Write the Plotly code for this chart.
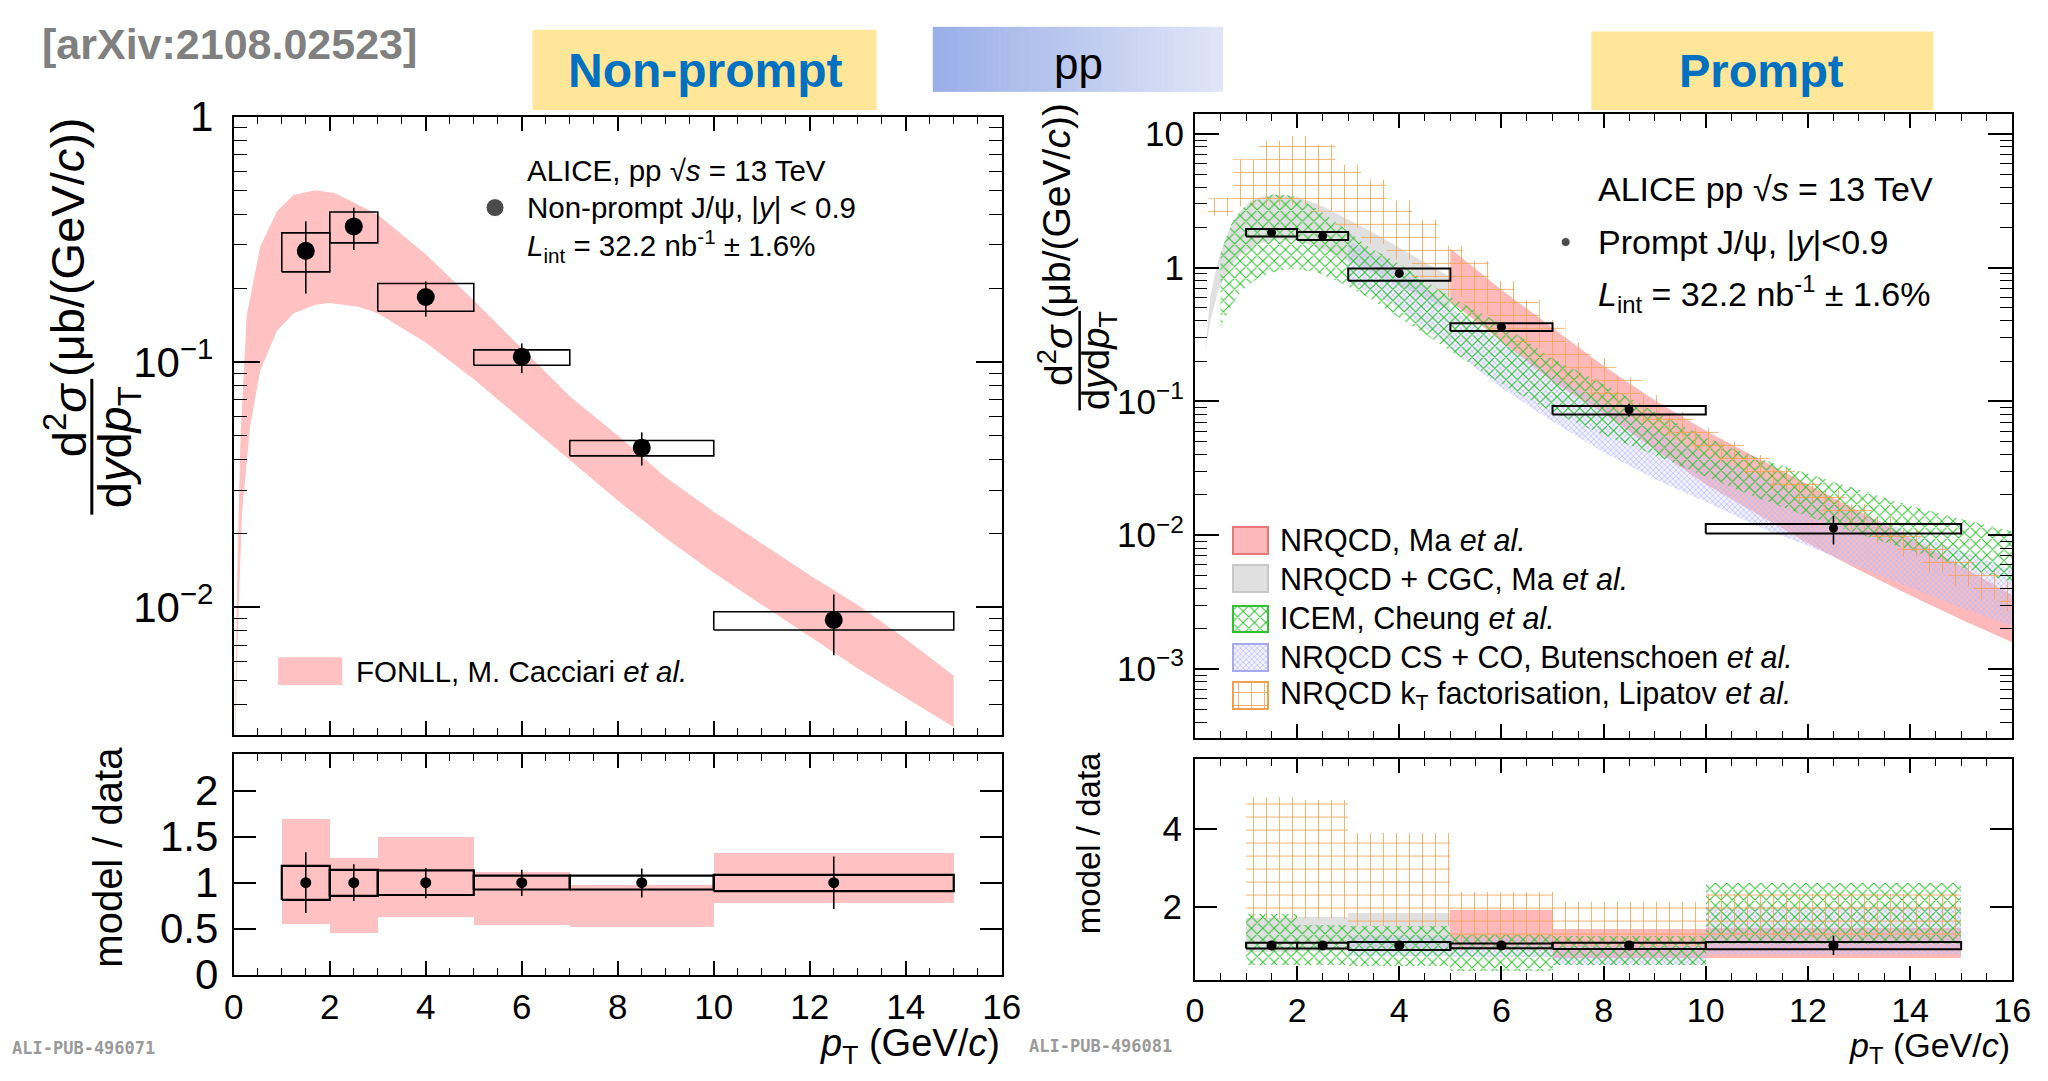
import plotly.graph_objects as go

W, H = 2048, 1081

# ---------------- data ----------------
bin_lo = [1, 2, 3, 5, 7, 10]
bin_hi = [2, 3, 5, 7, 10, 15]
pt_pts = [1.5, 2.5, 4, 6, 8.5, 12.5]

# Non-prompt J/psi cross section (ub/(GeV/c))
np_val = [0.284, 0.357, 0.184, 0.105, 0.0447, 0.00887]
np_stat_hi = [0.375, 0.425, 0.213, 0.119, 0.0516, 0.01125]
np_stat_lo = [0.190, 0.286, 0.153, 0.090, 0.0378, 0.00637]
np_sys_hi = [0.336, 0.409, 0.209, 0.112, 0.0478, 0.00958]
np_sys_lo = [0.233, 0.306, 0.161, 0.097, 0.0414, 0.00807]

# FONLL band
fonll_pt_hi = [0.03, 0.07, 0.14, 0.27, 0.55, 0.9, 1.25, 1.7, 2.1, 2.6, 3.0, 4, 5, 6, 7, 8, 9, 10, 11, 12, 13, 14, 15]
fonll_hi = [0.00363, 0.0126, 0.0501, 0.155, 0.295, 0.412, 0.479, 0.501, 0.489, 0.437, 0.398, 0.275,
            0.178, 0.1135, 0.0724, 0.0501, 0.0339, 0.0245, 0.0182, 0.0135, 0.0102, 0.00741, 0.00525]
fonll_pt_lo = [0.03, 0.07, 0.17, 0.34, 0.55, 0.9, 1.25, 1.7, 2.0, 2.6, 3.0, 4, 5, 6, 7, 8, 9, 10, 11, 12, 13, 14, 15]
fonll_lo = [0.00251, 0.00646, 0.024, 0.0545, 0.092, 0.134, 0.158, 0.171, 0.174, 0.168, 0.158, 0.120,
            0.0851, 0.0582, 0.0398, 0.0272, 0.0191, 0.0138, 0.0102, 0.00759, 0.00562, 0.00427, 0.00324]

# Non-prompt model / data
np_r_val = [1, 1, 1, 1, 1, 1]
fonll_r_hi = [1.69, 1.27, 1.50, 1.12, 0.975, 1.32]
fonll_r_lo = [0.55, 0.46, 0.627, 0.54, 0.52, 0.778]
np_r_sys_hi = [1.183, 1.14, 1.134, 1.077, 1.077, 1.085]
np_r_sys_lo = [0.813, 0.856, 0.866, 0.926, 0.926, 0.908]
np_r_stat_hi = [1.33, 1.20, 1.16, 1.14, 1.155, 1.285]
np_r_stat_lo = [0.67, 0.80, 0.83, 0.856, 0.838, 0.715]

# Prompt J/psi cross section
p_val = [1.83, 1.73, 0.906, 0.36, 0.0867, 0.0113]
p_sys_hi = [1.95, 1.85, 0.986, 0.385, 0.0925, 0.0121]
p_sys_lo = [1.71, 1.61, 0.80, 0.336, 0.080, 0.0103]
p_stat_hi = [1.86, 1.76, 0.93, 0.37, 0.096, 0.014]
p_stat_lo = [1.80, 1.70, 0.88, 0.35, 0.077, 0.0085]

# Models (prompt)
cgc_pt = [0.2, 0.3, 0.45, 0.6, 0.75, 0.9, 1.1, 1.3, 1.6, 2.0, 2.5, 3.0, 3.5, 4.0, 4.5, 5.0]
cgc_hi = [0.234, 0.603, 1.12, 1.66, 2.24, 2.69, 3.16, 3.39, 3.53, 3.39, 2.88, 2.29, 1.82, 1.41, 1.09, 0.851]
cgc_lo = [0.234, 0.398, 0.661, 0.891, 1.07, 1.26, 1.41, 1.53, 1.63, 1.58, 1.38, 1.12, 0.912, 0.733, 0.594, 0.479]

icem_pt = [0.5, 0.73, 0.92, 1.15, 1.5, 1.9, 2.4, 2.9, 3.4, 4.0, 5, 6, 7, 8, 9, 10, 11, 12, 13, 14, 15, 16]
icem_hi = [1.28, 2.21, 2.75, 3.16, 3.53, 3.47, 2.75, 2.0, 1.43, 1.07, 0.603, 0.38, 0.209, 0.135,
           0.0832, 0.0537, 0.038, 0.0288, 0.0219, 0.0166, 0.0132, 0.0107]
icem_lo = [0.363, 0.532, 0.676, 0.794, 0.92, 0.984, 0.92, 0.759, 0.596, 0.428, 0.24, 0.135, 0.0832,
           0.0562, 0.0398, 0.0275, 0.0191, 0.0138, 0.0102, 0.00776, 0.00575, 0.00447]

ma_pt = [5, 6, 7, 8, 9, 10, 11, 12, 13, 14, 15, 16]
ma_hi = [1.39, 0.684, 0.355, 0.184, 0.102, 0.0603, 0.038, 0.024, 0.0151, 0.00955, 0.00589, 0.00355]
ma_lo = [0.562, 0.282, 0.141, 0.0813, 0.0437, 0.024, 0.0145, 0.0087, 0.0055, 0.00355, 0.00234, 0.00158]

but_pt = [3, 4, 5, 6, 7, 8, 9, 10, 11, 12, 13, 14, 15, 16]
but_hi = [1.58, 1.0, 0.501, 0.282, 0.158, 0.0955, 0.0603, 0.0398, 0.0282, 0.02, 0.0145, 0.0105, 0.00759, 0.0055]
but_lo = [0.794, 0.501, 0.251, 0.126, 0.0708, 0.0417, 0.0263, 0.0178, 0.0117, 0.00832, 0.00575, 0.00407, 0.00288, 0.00209]

kt_pt = [0.5, 1.0, 1.5, 2.0, 2.5, 3.0, 3.5, 4.0, 4.5, 5.0, 5.5, 6.0, 6.5, 7.0, 7.5, 8.0,
         8.5, 9.0, 9.5, 10.0, 10.5, 11.0, 11.5, 12.0, 12.5, 13.0, 13.5, 14.0, 14.5, 15.0, 15.5, 16.0]
kt_hi = [3.31, 6.46, 8.91, 9.66, 8.32, 5.89, 4.57, 3.16, 2.29, 1.45, 1.12, 0.794, 0.575, 0.407, 0.275, 0.209,
         0.151, 0.112, 0.0832, 0.0631, 0.0501, 0.0398, 0.0316, 0.0257, 0.0214, 0.017, 0.0138, 0.011,
         0.00851, 0.00661, 0.00537, 0.00447]
kt_lo = [2.45, 2.88, 2.95, 2.95, 2.63, 2.0, 1.51, 1.15, 0.832, 0.603, 0.447, 0.339, 0.251, 0.191, 0.145, 0.112,
         0.0871, 0.0692, 0.055, 0.0437, 0.0347, 0.0275, 0.0219, 0.0174, 0.0138, 0.011, 0.00871, 0.00692,
         0.00537, 0.00417, 0.00331, 0.00269]

# Prompt model / data (per data bin)
p_r_val = [1, 1, 1, 1, 1, 1]
p_r_sys_hi = [1.07, 1.07, 1.09, 1.05, 1.07, 1.09]
p_r_sys_lo = [0.92, 0.92, 0.88, 0.93, 0.91, 0.90]
p_r_stat_hi = [1.02, 1.02, 1.03, 1.04, 1.10, 1.25]
p_r_stat_lo = [0.98, 0.98, 0.97, 0.96, 0.90, 0.75]
kt_r_hi = [4.83, 4.75, 3.9, 2.39, 2.14, 2.35]
kt_r_lo = [1.68, 1.70, 1.5, 1.0, 1.0, 1.2]
icem_r_hi = [1.83, 1.55, 1.5, 1.3, 1.26, 2.62]
icem_r_lo = [0.51, 0.51, 0.47, 0.35, 0.51, 1.05]
cgc_r_bins = [0, 1, 2]
cgc_r_hi = [1.73, 1.75, 1.85]
cgc_r_lo = [0.85, 0.88, 0.92]
ma_r_bins = [3, 4, 5]
ma_r_hi = [1.92, 1.44, 1.46]
ma_r_lo = [0.90, 0.68, 0.68]
but_r_bins = [2, 3, 4, 5]
but_r_hi = [1.25, 1.2, 1.0, 2.0]
but_r_lo = [0.75, 0.7, 0.5, 0.8]

legend_labels = ["NRQCD, Ma <i>et al.</i>",
                 "NRQCD + CGC, Ma <i>et al.</i>",
                 "ICEM, Cheung <i>et al.</i>",
                 "NRQCD CS + CO, Butenschoen <i>et al.</i>",
                 "NRQCD k<sub>T</sub> factorisation, Lipatov <i>et al.</i>"]

# ---------------- styles ----------------
FONT = "Liberation Sans, Arial, sans-serif"
C_FONLL = "#ffc1c1"
C_MA = "rgba(250,100,100,0.45)"
C_CGC = "rgba(180,180,180,0.42)"
C_BUT_BG = "rgba(200,200,250,0.25)"
PAT_ICEM = dict(shape="x", fgcolor="#2fc02f", bgcolor="rgba(0,0,0,0)", size=8, solidity=0.24, fillmode="replace")
PAT_BUT = dict(shape="x", fgcolor="#b8b8f4", bgcolor=C_BUT_BG, size=4, solidity=0.3, fillmode="replace")
PAT_KT = dict(shape="+", fgcolor="#f5a050", bgcolor="rgba(0,0,0,0)", size=13, solidity=0.12, fillmode="replace")


def px(x):
    return x / W


def py(y):
    return 1 - y / H


fig = go.Figure()


def band(xs_hi, hi, xs_lo, lo):
    return list(xs_hi) + list(xs_lo)[::-1], list(hi) + list(lo)[::-1]


def step_band(centers, half, hi, lo):
    xs, ys = [], []
    for c, h in zip(centers, hi):
        xs += [c - half, c + half]
        ys += [h, h]
    for c, l in zip(centers[::-1], lo[::-1]):
        xs += [c + half, c - half]
        ys += [l, l]
    return xs, ys


def add_fill(xs, ys, ax, color=None, pattern=None):
    kw = dict(x=xs, y=ys, mode="lines", fill="toself", line=dict(width=0),
              xaxis="x" + ax, yaxis="y" + ax, hoverinfo="skip", showlegend=False)
    if pattern is not None:
        kw["fillcolor"] = "rgba(0,0,0,0)"
        kw["fillpattern"] = pattern
    else:
        kw["fillcolor"] = color
    fig.add_trace(go.Scatter(**kw))


def add_bars(idx, lo, hi, ax, color="rgba(0,0,0,0)", pattern=None):
    xc = [pt_pts[i] for i in idx]
    wd = [bin_hi[i] - bin_lo[i] for i in idx]
    marker = dict(color=color, line=dict(width=0))
    if pattern is not None:
        marker["pattern"] = pattern
    fig.add_trace(go.Bar(x=xc, width=wd, base=lo, y=[h - l for l, h in zip(lo, hi)],
                         marker=marker, xaxis="x" + ax, yaxis="y" + ax,
                         hoverinfo="skip", showlegend=False))


def add_box_outlines(lo, hi, ax, lw):
    xs, ys = [], []
    for a, b, l, h in zip(bin_lo, bin_hi, lo, hi):
        xs += [a, b, b, a, a, None]
        ys += [l, l, h, h, l, None]
    fig.add_trace(go.Scatter(x=xs, y=ys, mode="lines", line=dict(color="black", width=lw),
                             xaxis="x" + ax, yaxis="y" + ax, hoverinfo="skip", showlegend=False))


def add_points(val, lo, hi, ax, size):
    fig.add_trace(go.Scatter(
        x=pt_pts, y=val, mode="markers", marker=dict(color="black", size=size),
        error_y=dict(type="data", symmetric=False, array=[h - v for v, h in zip(val, hi)],
                     arrayminus=[v - l for v, l in zip(val, lo)], width=0, thickness=1.6, color="black"),
        xaxis="x" + ax, yaxis="y" + ax, hoverinfo="skip", showlegend=False))


ALL = list(range(6))

# ---- left top ----
fx, fy = band(fonll_pt_hi, fonll_hi, fonll_pt_lo, fonll_lo)
add_fill(fx, fy, "", color=C_FONLL)
add_box_outlines(np_sys_lo, np_sys_hi, "", 1.6)
add_points(np_val, np_stat_lo, np_stat_hi, "", 18)

# ---- left bottom ----
add_bars(ALL, fonll_r_lo, fonll_r_hi, "2", color=C_FONLL)
add_box_outlines(np_r_sys_lo, np_r_sys_hi, "2", 2.2)
add_points(np_r_val, np_r_stat_lo, np_r_stat_hi, "2", 11)

# ---- right top ----
x_, y_ = band(cgc_pt, cgc_hi, cgc_pt, cgc_lo)
add_fill(x_, y_, "3", color=C_CGC)
x_, y_ = band(ma_pt, ma_hi, ma_pt, ma_lo)
add_fill(x_, y_, "3", color=C_MA)
x_, y_ = band(but_pt, but_hi, but_pt, but_lo)
add_fill(x_, y_, "3", pattern=PAT_BUT)
x_, y_ = band(icem_pt, icem_hi, icem_pt, icem_lo)
add_fill(x_, y_, "3", pattern=PAT_ICEM)
x_, y_ = step_band(kt_pt, 0.25, kt_hi, kt_lo)
add_fill(x_, y_, "3", pattern=PAT_KT)
add_box_outlines(p_sys_lo, p_sys_hi, "3", 2)
add_points(p_val, p_stat_lo, p_stat_hi, "3", 9)

# ---- right bottom ----
add_bars(cgc_r_bins, cgc_r_lo, cgc_r_hi, "4", color=C_CGC)
add_bars(ma_r_bins, ma_r_lo, ma_r_hi, "4", color=C_MA)
add_bars(but_r_bins, but_r_lo, but_r_hi, "4", color=C_BUT_BG, pattern=PAT_BUT)
add_bars(ALL, icem_r_lo, icem_r_hi, "4", pattern=PAT_ICEM)
add_bars(ALL, kt_r_lo, kt_r_hi, "4", pattern=PAT_KT)
add_box_outlines(p_r_sys_lo, p_r_sys_hi, "4", 2)
add_points(p_r_val, p_r_stat_lo, p_r_stat_hi, "4", 10)

# ---- overlay pixel axis for legend swatches & bullets ----
sw_y = [541, 581, 623, 663, 703]
sw_fill = [C_MA, C_CGC, "rgba(0,0,0,0)", C_BUT_BG, "rgba(0,0,0,0)"]
sw_line = ["#e87878", "#c8c8c8", "#30c030", "#a8a8f0", "#f0a050"]
sw_pat = [None, None, PAT_ICEM, PAT_BUT, PAT_KT]
for yc, fc, lc, pt_ in zip(sw_y, sw_fill, sw_line, sw_pat):
    mk = dict(color=fc, line=dict(color=lc, width=2))
    if pt_ is not None:
        mk["pattern"] = pt_
    fig.add_trace(go.Bar(x=[1258.5], width=[35], base=[yc - 14], y=[28], marker=mk,
                         xaxis="x5", yaxis="y5", hoverinfo="skip", showlegend=False))
fig.add_trace(go.Scatter(x=[492, 1578], y=[193, 229], mode="markers",
                         marker=dict(color="black", size=[18, 9]),
                         xaxis="x5", yaxis="y5", hoverinfo="skip", showlegend=False))

# ---------------- axes ----------------
def log_minor(e0, e1):
    return [k * 10.0 ** e for e in range(e0, e1) for k in range(2, 10)]

common = dict(showline=True, linecolor="black", linewidth=2, mirror="allticks", ticks="inside",
              showgrid=False, zeroline=False, tickcolor="black", tickwidth=1.6)
xminor = dict(dtick=0.5, tick0=0, ticks="inside", ticklen=7, tickcolor="black", tickwidth=1.4)

LT_X = [px(227), px(1006)]
LT_Y = [py(744), py(98)]
LB_Y = [py(995), py(764)]
RT_X = [px(1202), px(2031)]
RT_Y = [py(748), py(95)]
RB_Y = [py(1000), py(769)]

fig.update_layout(
    xaxis=dict(common, domain=LT_X, anchor="y", range=[0, 16], dtick=2, tick0=0, ticklen=14,
               showticklabels=False, minor=xminor),
    yaxis=dict(common, domain=LT_Y, anchor="x", type="log", range=[-2.52, 0],
               tickvals=[0.01, 0.1, 1], ticktext=["10<sup>−2</sup>", "10<sup>−1</sup>", "1"],
               ticklen=26, tickfont=dict(size=42, family=FONT), ticklabelstandoff=10,
               minor=dict(tickmode="array", tickvals=log_minor(-3, 0), ticks="inside", ticklen=13,
                          tickcolor="black", tickwidth=1.4)),
    xaxis2=dict(common, domain=LT_X, anchor="y2", range=[0, 16], dtick=2, tick0=0, ticklen=14,
                tickfont=dict(size=35, family=FONT), minor=xminor),
    yaxis2=dict(common, domain=LB_Y, anchor="x2", range=[0, 2.4], dtick=0.5, tick0=0, ticklen=22,
                tickfont=dict(size=42, family=FONT), ticklabelstandoff=5),
    xaxis3=dict(common, domain=RT_X, anchor="y3", range=[0, 16], dtick=2, tick0=0, ticklen=14,
                showticklabels=False, minor=xminor),
    yaxis3=dict(common, domain=RT_Y, anchor="x3", type="log", range=[-3.52, 1.15],
                tickvals=[0.001, 0.01, 0.1, 1, 10],
                ticktext=["10<sup>−3</sup>", "10<sup>−2</sup>", "10<sup>−1</sup>", "1", "10"],
                ticklen=24, tickfont=dict(size=35, family=FONT), ticklabelstandoff=2,
                minor=dict(tickmode="array", tickvals=log_minor(-4, 1), ticks="inside", ticklen=12,
                           tickcolor="black", tickwidth=1.4)),
    xaxis4=dict(common, domain=RT_X, anchor="y4", range=[0, 16], dtick=2, tick0=0, ticklen=14,
                tickfont=dict(size=34, family=FONT), minor=xminor),
    yaxis4=dict(common, domain=RB_Y, anchor="x4", range=[0.12, 5.82], tickvals=[2, 4], ticklen=22,
                tickfont=dict(size=35, family=FONT), ticklabelstandoff=4),
    xaxis5=dict(domain=[0, 1], anchor="y5", range=[0, W], visible=False, fixedrange=True),
    yaxis5=dict(domain=[0, 1], anchor="x5", range=[H, 0], visible=False, fixedrange=True),
)

# ---------------- shapes ----------------
shapes = []
shapes.append(dict(type="rect", xref="paper", yref="paper", x0=px(530), x1=px(879), y0=py(91), y1=py(7),
                   fillcolor="#ffe699", line=dict(width=0), layer="below"))
shapes.append(dict(type="rect", xref="paper", yref="paper", x0=px(1604), x1=px(1951), y0=py(91), y1=py(9),
                   fillcolor="#ffe699", line=dict(width=0), layer="below"))
# gradient pp box
n_str = 48
c0 = (154, 175, 232)
c1 = (224, 229, 247)
for i in range(n_str):
    t = i / (n_str - 1)
    col = tuple(int(round(a + (b - a) * t)) for a, b in zip(c0, c1))
    xa = 936 + (1230 - 936) * i / n_str
    xb = 936 + (1230 - 936) * (i + 1) / n_str + 0.6
    shapes.append(dict(type="rect", xref="paper", yref="paper", x0=px(xa), x1=px(xb), y0=py(72), y1=py(4),
                       fillcolor="rgb(%d,%d,%d)" % col, line=dict(width=0), layer="below"))
# FONLL legend swatch
shapes.append(dict(type="rect", xref="paper", yref="paper", x0=px(272), x1=px(337), y0=py(692), y1=py(663),
                   fillcolor=C_FONLL, line=dict(width=0)))
# fraction bars of y titles
shapes.append(dict(type="line", xref="paper", yref="paper", x0=px(83), x1=px(83), y0=py(372), y1=py(514),
                   line=dict(color="black", width=3)))
shapes.append(dict(type="line", xref="paper", yref="paper", x0=px(1085), x1=px(1085), y0=py(301), y1=py(405),
                   line=dict(color="black", width=2.5)))
fig.update_layout(shapes=shapes)

# ---------------- annotations ----------------
ann = []


def text(x, y, s, size, xanchor="left", angle=0, color="black", family=FONT, yanchor="middle"):
    ann.append(dict(x=px(x), y=py(y), xref="paper", yref="paper", text=s, showarrow=False,
                    xanchor=xanchor, yanchor=yanchor, textangle=angle,
                    font=dict(size=size, color=color, family=family)))


text(30, 22, "<b>[arXiv:2108.02523]</b>", 43, color="#808080")
text(705, 50, "<b>Non-prompt</b>", 48, xanchor="center", color="#0070c0")
text(1777, 50, "<b>Prompt</b>", 47, xanchor="center", color="#0070c0")
text(1084, 42, "pp", 44, xanchor="center")

# left panel texts
text(522, 154, "ALICE, pp √<i>s</i> = 13 TeV", 29.5)
text(522, 193, "Non-prompt J/ψ, |<i>y</i>| < 0.9", 29.5)
text(522, 233, "<i>L</i><sub>int</sub> = 32.2 nb<sup>-1</sup> ± 1.6%", 29.5)
text(349, 678, "FONLL, M. Cacciari <i>et al.</i>", 29.5)

# right panel texts
text(1609, 174, "ALICE pp √<i>s</i> = 13 TeV", 34)
text(1609, 229, "Prompt J/ψ, |<i>y</i>|<0.9", 34)
text(1609, 283, "<i>L</i><sub>int</sub> = 32.2 nb<sup>-1</sup> ± 1.6%", 34)
for yc, lab in zip(sw_y, legend_labels):
    text(1286, yc, lab, 30.5)

# y titles left
text(59, 234, "(μb/(GeV/<i>c</i>))", 47, xanchor="center", angle=-90)
text(57, 415, "d<sup>2</sup><i>σ</i>", 47, xanchor="center", angle=-90)
text(109, 443, "d<i>y</i>d<i>p</i><sub>T</sub>", 47, xanchor="center", angle=-90)
text(99, 872, "model / data", 40, xanchor="center", angle=-90)
# y titles right
text(1062, 196, "(μb/(GeV/<i>c</i>))", 39, xanchor="center", angle=-90)
text(1061, 347, "d<sup>2</sup><i>σ</i>", 39, xanchor="center", angle=-90)
text(1104, 353, "d<i>y</i>d<i>p</i><sub>T</sub>", 38, xanchor="center", angle=-90)
text(1094, 858, "model / data", 33, xanchor="center", angle=-90)
# x titles
text(1006, 1069, "<i>p</i><sub>T</sub> (GeV/<i>c</i>)", 38, xanchor="right")
text(2031, 1071, "<i>p</i><sub>T</sub> (GeV/<i>c</i>)", 34, xanchor="right")
# watermarks
text(0, 1072, "<b>ALI-PUB-496071</b>", 17, color="#9a9a9a", family="DejaVu Sans Mono, monospace")
text(1032, 1070, "<b>ALI-PUB-496081</b>", 17, color="#9a9a9a", family="DejaVu Sans Mono, monospace")

fig.update_layout(
    annotations=ann,
    width=W, height=H, margin=dict(l=0, r=0, t=0, b=0),
    paper_bgcolor="white", plot_bgcolor="rgba(0,0,0,0)",
    barmode="overlay", bargap=0, showlegend=False,
    font=dict(family=FONT, color="black"),
)

fig.write_html("out.html")
